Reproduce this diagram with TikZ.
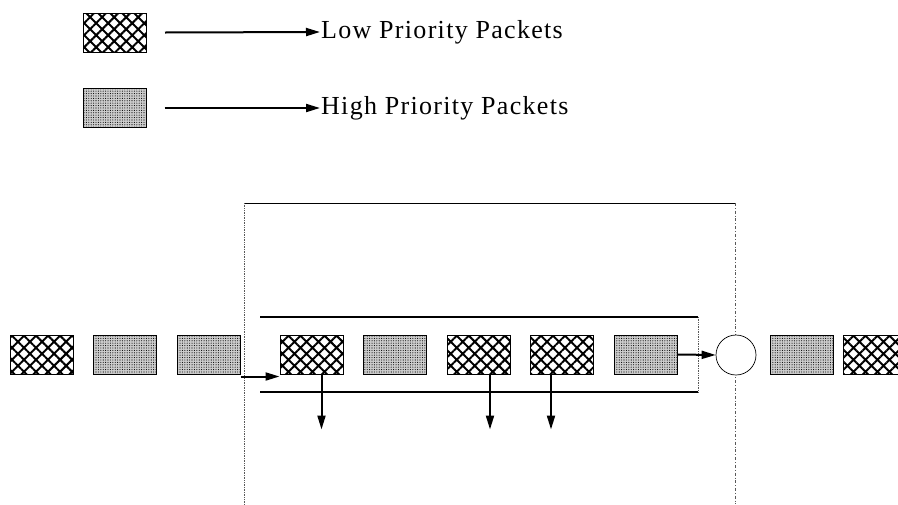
\documentclass[tikz,border=0pt]{standalone}
\usepackage{fontspec}
\setmainfont{Liberation Serif}[LetterSpace=5]
\usetikzlibrary{patterns.meta,arrows.meta}
\tikzset{
  lowpkt/.style={draw=black, line width=1pt, minimum width=63pt, minimum height=39pt,
    inner sep=0pt, pattern={Hatch[angle=45,distance=8.5pt,line width=2pt]}},
  highpkt/.style={draw=black, line width=1pt, minimum width=63pt, minimum height=39pt,
    inner sep=0pt, preaction={fill=gray!40}, pattern={Dots[distance=2.4pt,radius=0.55pt]}},
  flow/.style={line width=2pt, -{Triangle[length=14pt,width=8pt]}},
  frame/.style={line width=0.7pt, densely dotted, gray!70!black}
}
\begin{document}
\begin{tikzpicture}[x=1pt,y=-1pt]
\useasboundingbox (0,0) rectangle (898,504);
% legend
\node[lowpkt] (lowkey) at (114.5,32.5) {};
\node[anchor=west, font=\fontsize{26}{30}\selectfont, inner sep=1pt] (lowtxt) at (320,32) {Low Priority Packets};
\draw[flow] ([xshift=18pt]lowkey.east) -- (lowtxt.west);
\node[highpkt] (highkey) at (114.5,108) {};
\node[anchor=west, font=\fontsize{26}{30}\selectfont, inner sep=1pt] (hightxt) at (320,108) {High Priority Packets};
\draw[flow] ([xshift=18pt]highkey.east) -- (hightxt.west);

% router frame
\draw[line width=0.7pt] (244,203) -- (735,203);
\draw[frame] (244,203) -- (244,504);
\draw[frame, dash dot] (735,203) -- (735,504);

% queue
\draw[line width=1.2pt] (260,317) -- (698,317);
\draw[line width=1.2pt] (260,392) -- (698,392);
\draw[frame] (698,317) -- (698,392);

% arriving packets
\node[lowpkt]  (p1) at (41.5,354.5) {};
\node[highpkt] (p2) at (125,354.5) {};
\node[highpkt] (p3) at (208.5,354.5) {};
% queued packets
\node[lowpkt]  (q1) at (311.5,354.5) {};
\node[highpkt] (q2) at (395,354.5) {};
\node[lowpkt]  (q3) at (479,354.5) {};
\node[lowpkt]  (q4) at (562,354.5) {};
\node[highpkt] (q5) at (645.5,354.5) {};
% server
\node[draw, circle, fill=white, line width=0.7pt, minimum size=40pt] (srv) at (736,355) {};
% departed packets
\node[highpkt] (r1) at (801.5,354.5) {};
\node[lowpkt]  (r2) at (874.5,354.5) {};

\draw[flow] ([yshift=-2pt]p3.south east) -- ([yshift=-2pt]q1.south west);
\draw[flow] (q5.east) -- (srv.west);
\draw[flow] ([xshift=10pt]q1.south) -- ++(0,55);
\draw[flow] ([xshift=11pt]q3.south) -- ++(0,55);
\draw[flow] ([xshift=-11pt]q4.south) -- ++(0,55);
\end{tikzpicture}
\end{document}
